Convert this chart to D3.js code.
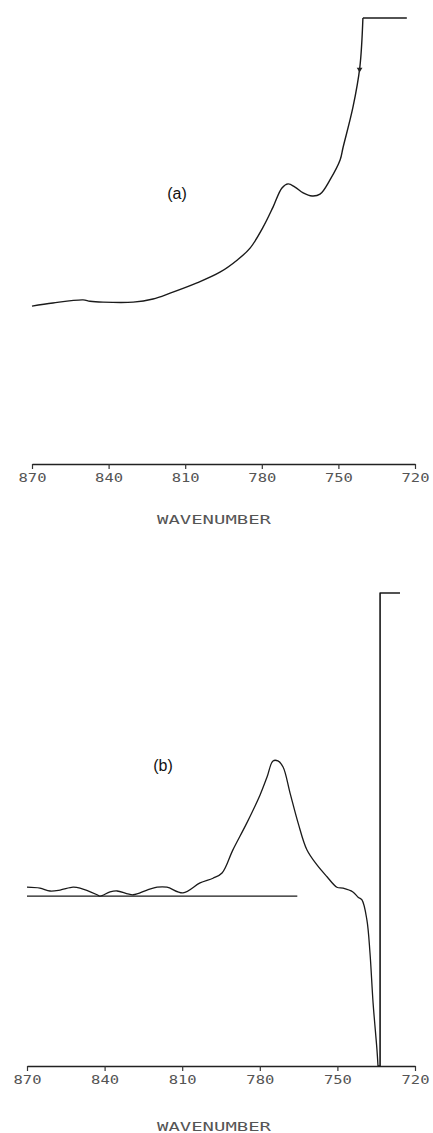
<!DOCTYPE html>
<html>
<head>
<meta charset="utf-8">
<script src="https://cdn.jsdelivr.net/npm/d3@7"></script>
<style>
  body { margin: 0; background: #fff; }
  .tick text, .xlab { font-family: "DejaVu Sans Mono", monospace; fill: #555; }
  .plabel { font-family: "Liberation Sans", Arial, sans-serif; fill: #111; }
</style>
</head>
<body>
<script>
const W = 433;
const H = 1133;

// tick labels along wavenumber axis
const ticks = [870, 840, 810, 780, 750, 720];

// spectrum (a) : wavenumber / absorbance (arb.)
const wnA = [870, 861.8, 850, 847.3, 842.2, 830.4, 822.6, 815.9, 805.4, 796.4, 789.7, 784.6, 779.5,
  775.6, 772.1, 769.7, 767, 763.8, 760.3, 757.2, 753.3, 749.3, 748.2, 744.3, 741.6, 740.4];
const absA = [0.354, 0.361, 0.368, 0.365, 0.363, 0.363, 0.370, 0.383, 0.406, 0.430, 0.457, 0.484, 0.531,
  0.576, 0.619, 0.628, 0.621, 0.608, 0.601, 0.605, 0.637, 0.682, 0.709, 0.800, 0.890, 1.0];
// pen at full scale
const limitWnA = [740.4, 723.2];
const limitA = [1.0, 1.0];

// spectrum (b) : difference spectrum
const wnB = [870, 865, 861.1, 857.2, 852.2, 849.5, 842.9, 841.8, 837.9, 835.2, 829, 823.6, 819.7, 815.9,
  809.7, 803.1, 798.1, 794.6, 790.4, 785, 779.9, 777.2, 774.9, 773, 771, 768.3, 765.2, 761.8, 757.9,
  754, 750.2, 747.8, 744, 742, 740.5, 738.6, 737.4, 736.2, 734.7, 734.3];
const absB = [0.378, 0.376, 0.370, 0.372, 0.378, 0.376, 0.362, 0.359, 0.368, 0.370, 0.362, 0.372, 0.378, 0.378,
  0.366, 0.387, 0.397, 0.408, 0.457, 0.514, 0.573, 0.611, 0.645, 0.645, 0.632, 0.577, 0.514, 0.457, 0.425,
  0.400, 0.378, 0.376, 0.368, 0.357, 0.351, 0.309, 0.239, 0.133, 0.034, 0];
const limitWnB = [734.3, 733.5, 733.5, 725.8];
const limitB = [0, 0, 1.0, 1.0];
// baseline drawn under (b)
const baseWnB = [870, 765.5];
const baseB = [0.359, 0.359];

const svg = d3.select("body").append("svg")
    .attr("width", W)
    .attr("height", H);

function panel(cfg) {
  const x = d3.scaleLinear().domain([870, 720]).range([cfg.x0, cfg.x1]);
  const y = d3.scaleLinear().domain([0, 1]).range([cfg.axisY, cfg.top]);
  const g = svg.append("g");

  const ax = g.append("g")
      .attr("transform", `translate(0,${cfg.axisY})`)
      .call(d3.axisBottom(x).tickValues(ticks).tickSize(5).tickSizeOuter(0).tickPadding(4));
  ax.select(".domain").attr("stroke", "#222").attr("stroke-width", 1.6);
  ax.selectAll(".tick line").attr("stroke", "#333").attr("stroke-width", 1.2);
  ax.selectAll(".tick text")
      .attr("font-size", 13)
      .attr("textLength", 28)
      .attr("lengthAdjust", "spacingAndGlyphs");

  g.append("text").attr("class", "xlab")
      .attr("x", 214).attr("y", cfg.labY)
      .attr("text-anchor", "middle")
      .attr("font-size", 12)
      .attr("textLength", 114)
      .attr("lengthAdjust", "spacingAndGlyphs")
      .text("WAVENUMBER");

  g.append("text").attr("class", "plabel")
      .attr("x", cfg.tagX).attr("y", cfg.tagY)
      .attr("text-anchor", "middle")
      .attr("font-size", 16)
      .text(cfg.tag);

  const curve = d3.line().x(d => x(d[0])).y(d => y(d[1])).curve(d3.curveCatmullRom.alpha(0.5));
  const straight = d3.line().x(d => x(d[0])).y(d => y(d[1]));

  cfg.lines.forEach(l => {
    g.append("path")
        .attr("d", (l.smooth ? curve : straight)(d3.zip(l.wn, l.v)))
        .attr("fill", "none")
        .attr("stroke", "#1a1a1a")
        .attr("stroke-width", l.w || 1.4)
        .attr("stroke-linejoin", "round");
  });
  return { x, y, g };
}

const pa = panel({
  x0: 32, x1: 415, axisY: 464, top: 18, labY: 524,
  tag: "(a)", tagX: 177, tagY: 199,
  lines: [
    { wn: wnA, v: absA, smooth: true },
    { wn: limitWnA, v: limitA, w: 1.6 }
  ]
});
// small pen marker on the rising edge of (a)
pa.g.append("path")
    .attr("d", d3.symbol(d3.symbolTriangle, 14)())
    .attr("transform", `translate(${pa.x(741.7)},${pa.y(0.885)}) rotate(180)`)
    .attr("fill", "#222");

panel({
  x0: 27, x1: 415, axisY: 1066, top: 593, labY: 1131,
  tag: "(b)", tagX: 163, tagY: 771,
  lines: [
    { wn: baseWnB, v: baseB, w: 1.3 },
    { wn: wnB, v: absB, smooth: true, w: 1.3 },
    { wn: limitWnB, v: limitB, w: 1.6 }
  ]
});
</script>
</body>
</html>
